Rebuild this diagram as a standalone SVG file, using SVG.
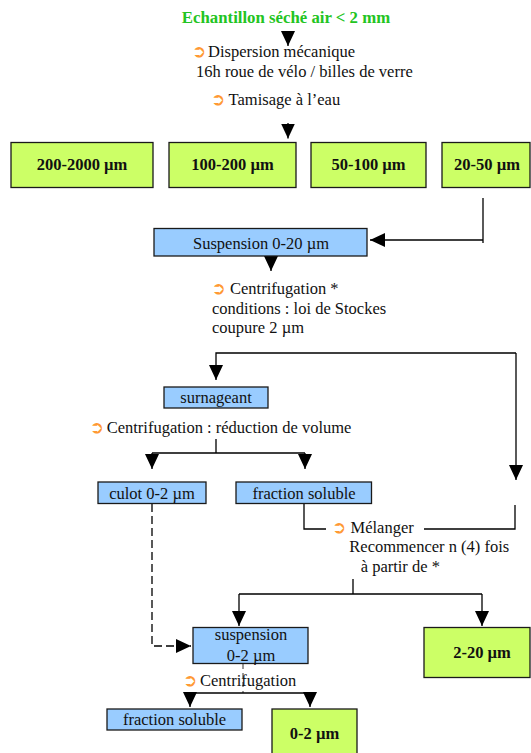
<svg xmlns="http://www.w3.org/2000/svg" width="531" height="753" viewBox="0 0 531 753">
<style>
.t{font-family:"Liberation Serif","Times New Roman",serif;font-size:16.5px;fill:#111}
.c{text-anchor:middle}
.b{font-weight:bold}
.title{fill:#22c422;font-weight:bold;font-size:16.8px;text-anchor:middle}
.ic{font-family:"DejaVu Sans",sans-serif;font-size:17px;fill:#ff9933;font-weight:bold}
.g{fill:#ccff66;stroke:#1a1a1a;stroke-width:1.3}
.bl{fill:#99ccff;stroke:#1a1a1a;stroke-width:1.3}
.ln{fill:none;stroke:#000;stroke-width:1.3}
.ar{marker-end:url(#ah)}
.ds{stroke-dasharray:8,4}
.dt{fill:none;stroke:#333;stroke-width:1;stroke-dasharray:5,4}
</style>
<defs>
<marker id="ah" viewBox="0 0 15 14" refX="15" refY="7" markerWidth="15" markerHeight="14" markerUnits="userSpaceOnUse" orient="auto">
<path d="M0,0 L15,7 L0,14 z" fill="#000"/>
</marker>
</defs>
<g id="connectors">
<path class="ln ar" d="M288,31 L288,46"/>
<path class="ln ar" d="M288,123 L288,138.5"/>
<path class="ln" d="M483,198 L483,243"/>
<path class="ln ar" d="M483,240 L370,240"/>
<path class="ln ar" d="M271,256 L271,271"/>
<path class="ln ar" d="M516,353 L216,353 L216,380"/>
<path class="ln ar" d="M516,353 L516,480"/>
<path class="ln" d="M216,439 L216,453 M152,453 L305,453"/>
<path class="ln ar" d="M152,453 L152,469"/>
<path class="ln ar" d="M305,453 L305,469"/>
<path class="ln" d="M304,504 L304,529 L326,529"/>
<path class="ln" d="M515,505 L515,529 L424,529"/>
<path class="ln" d="M353,579 L353,594 M239,594 L482,594"/>
<path class="ln ar" d="M239,594 L239,626"/>
<path class="ln ar" d="M482,594 L482,626"/>
<path class="ln ds ar" d="M152,504 L152,646 L191,646"/>
<path class="dt" d="M243,664 L243,693"/>
<path class="ln" d="M190,693 L310,693"/>
<path class="ln ar" d="M190,693 L190,707"/>
<path class="ln ar" d="M310,693 L310,707"/>
</g>
<g id="title"><text class="t title" x="286" y="23">Echantillon séché air &lt; 2 mm</text></g>
<g id="step-dispersion">
<text class="ic" x="192" y="57">➲</text>
<text class="t" x="208" y="57">Dispersion mécanique</text>
<text class="t" x="196" y="77">16h roue de vélo / billes de verre</text>
</g>
<g id="step-tamisage">
<text class="ic" x="211" y="105">➲</text>
<text class="t" x="228.6" y="105">Tamisage à l’eau</text>
</g>
<g id="n200-2000"><rect class="g" x="11" y="142.5" width="142" height="45"/><text class="t b c" x="82" y="170">200-2000 µm</text></g>
<g id="n100-200"><rect class="g" x="169" y="142.5" width="127" height="45"/><text class="t b c" x="232.5" y="170">100-200 µm</text></g>
<g id="n50-100"><rect class="g" x="311" y="142.5" width="115" height="45"/><text class="t b c" x="368.5" y="170">50-100 µm</text></g>
<g id="n20-50"><rect class="g" x="442" y="142.5" width="88" height="45"/><text class="t b c" x="487" y="170">20-50 µm</text></g>
<g id="suspension-0-20"><rect class="bl" x="154" y="228.5" width="213" height="27.5"/><text class="t c" x="261" y="248.5">Suspension 0-20 µm</text></g>
<g id="step-centrifugation-1">
<text class="ic" x="211.6" y="294">➲</text>
<text class="t" x="230" y="294">Centrifugation *</text>
<text class="t" x="212" y="313.5">conditions : loi de Stockes</text>
<text class="t" x="212" y="333">coupure 2 µm</text>
</g>
<g id="surnageant"><rect class="bl" x="164" y="387" width="104" height="21"/><text class="t c" x="216" y="403">surnageant</text></g>
<g id="step-centrifugation-2">
<text class="ic" x="89.7" y="432.7">➲</text>
<text class="t" x="106.7" y="432.7">Centrifugation : réduction de volume</text>
</g>
<g id="culot"><rect class="bl" x="98" y="482" width="108" height="21.5"/><text class="t c" x="152" y="498.5">culot 0-2 µm</text></g>
<g id="fraction-soluble-1"><rect class="bl" x="236" y="482" width="135.5" height="21.5"/><text class="t c" x="304" y="498.5">fraction soluble</text></g>
<g id="step-melanger">
<text class="ic" x="332" y="533">➲</text>
<text class="t" x="350.5" y="533">Mélanger</text>
<text class="t" x="349.3" y="552">Recommencer n (4) fois</text>
<text class="t" x="360.7" y="571.5">à partir de *</text>
</g>
<g id="suspension-0-2"><rect class="bl" x="193" y="627.5" width="115" height="36"/><text class="t c" x="251" y="640">suspension</text><text class="t c" x="251" y="661">0-2 µm</text></g>
<g id="n2-20"><rect class="g" x="424" y="627.5" width="106" height="50"/><text class="t b c" x="482" y="657.5">2-20 µm</text></g>
<g id="step-centrifugation-3">
<text class="ic" x="183" y="686">➲</text>
<text class="t" x="200" y="686">Centrifugation</text>
</g>
<g id="fraction-soluble-2"><rect class="bl" x="107" y="709" width="135" height="21"/><text class="t c" x="174.5" y="724.5">fraction soluble</text></g>
<g id="n0-2"><rect class="g" x="272" y="709" width="85" height="50"/><text class="t b c" x="314.5" y="738.5">0-2 µm</text></g>
</svg>
